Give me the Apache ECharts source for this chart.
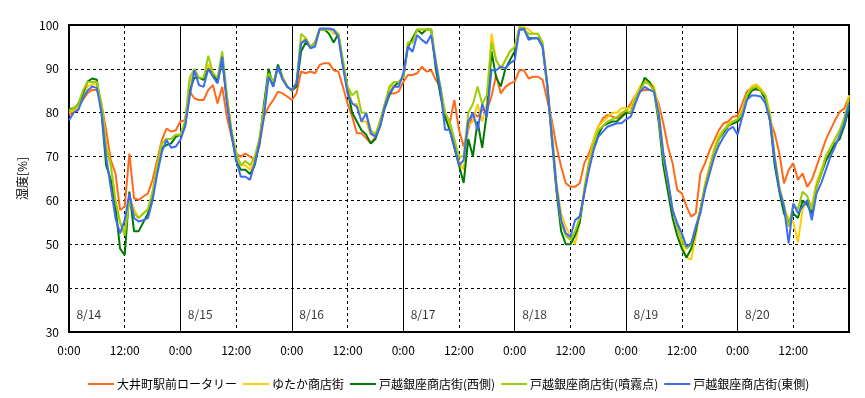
<!DOCTYPE html>
<html>
<head>
<meta charset="utf-8">
<script src="https://cdn.jsdelivr.net/npm/echarts@6/dist/echarts.min.js"></script>
<style>
  html, body { margin: 0; padding: 0; background: #fff; }
  #chart { width: 865px; height: 398px; }
</style>
</head>
<body>
<div id="chart"></div>
<script>
// hourly readings from 8/14 0:00 to 8/21 0:00 (169 values each)
var seriesNames = ['大井町駅前ロータリー', 'ゆたか商店街', '戸越銀座商店街(西側)', '戸越銀座商店街(噴霧点)', '戸越銀座商店街(東側)']
var seriesColors = ['#FF6A1A', '#FFCC00', '#007A00', '#9ACD0A', '#3D6BF2']
var dayLabels = ['8/14', '8/15', '8/16', '8/17', '8/18', '8/19', '8/20']

var oimachi = [
  79.5, 80, 81.5, 82.9, 84.5, 85.2, 85.2, 82, 76, 69.2, 66.2, 57.8, 58.6, 70.7, 60.5, 60.1, 60.9, 61.6, 64.7, 69.2, 73.8, 76.4, 75.7, 76,
  78, 78.3, 84.8, 83.3, 82.9, 82.9, 85.2, 86.3, 82.1, 85.9, 79.1, 74.5, 70.7, 70, 70.7, 70, 69.2, 72.3, 79.1, 81.4, 82.9, 84.8, 84.4, 83.7,
  82.9, 84.4, 89.4, 89, 89.4, 89, 90.9, 91.3, 91.3, 89.7, 89.4, 85.9, 82.1, 79.1, 75.3, 75.3, 74.2, 73, 74.5, 78.3, 81.4, 84.4, 84.4, 84.8,
  87, 88.6, 88.6, 89, 90.5, 89.4, 89.7, 87.5, 85.9, 79.1, 77.6, 82.9, 76.1, 72.3, 76.1, 79.9, 79.1, 80.6, 80.6, 83.7, 88.6, 84.4, 85.9, 86.7,
  87.1, 89.7, 89.7, 87.8, 88.2, 88.2, 87.5, 82.9, 78.3, 72.3, 67.7, 63.9, 63.1, 63.1, 63.9, 68.5, 70.7, 73.8, 76.8, 78.7, 79.5, 79.1, 78.7, 79.5,
  80.5, 82.1, 83.9, 84.8, 85.2, 85.2, 84.8, 82.1, 77.6, 72.3, 68.5, 62.4, 61.6, 58.6, 56.3, 57.1, 66.2, 68.5, 71.5, 73.8, 76.1, 77.6, 78, 79.1,
  79.3, 82.1, 84.8, 85.6, 85.2, 85.2, 83.7, 78.3, 75.3, 70.7, 63.9, 66.9, 68.5, 64.7, 66.2, 63.1, 64.7, 67.7, 70.7, 73.8, 76.1, 78.3, 80.2, 81, 83.7
]
var yutaka = [
  80, 80.5, 81.5, 84, 86, 86.5, 86.5, 82, 73, 68, 60, 55, 53, 61, 58, 56, 57, 58, 62, 68, 73, 74, 74, 75,
  75, 78, 87, 89, 88, 87.5, 91, 89, 87, 93, 84, 76, 70, 68, 68, 67, 69, 74, 81, 89, 87, 90, 88, 86,
  85, 87, 96, 97, 95, 96, 99, 99, 99, 98, 98, 92, 86, 82, 82, 78, 78, 75, 75, 78, 82, 85, 87, 87,
  88, 96, 96, 99, 99, 99, 99, 91, 85, 80, 77, 73, 69, 67, 77, 78, 82, 78, 82, 98, 92, 90, 92, 94,
  95, 99.5, 99.5, 99, 98, 98, 96, 87, 76, 64, 57, 54, 52, 50, 55, 63, 69, 74, 77, 78, 79, 80, 80, 81,
  81, 81, 84, 86, 87.5, 87, 86, 81, 71, 64, 58, 54, 50, 47, 46.5, 52, 58, 64, 68, 72, 75, 76, 77.5, 78,
  78.5, 80.5, 84, 86, 86.5, 85.5, 84, 80, 70, 63, 58, 56, 55, 50.5, 58, 60, 59, 64, 67, 70, 72, 74, 76, 78, 84
]
var togoshiWest = [
  80.8, 81, 82, 84.4, 87.1, 87.8, 87.5, 80, 68, 64.7, 58.6, 49, 47.5, 62, 53, 53, 55, 57, 61, 67, 72, 72.6, 73, 74.5,
  75, 77, 85, 88, 88, 87.5, 90, 89, 87, 92, 83, 75, 69, 67, 67, 66, 68, 73, 82, 90, 86, 91, 88, 86,
  85, 86, 94, 96, 95, 96, 99, 99, 98, 96, 98, 91, 85, 80, 78, 76, 75, 73, 74, 77, 81, 84, 86, 87,
  88, 95, 97, 99, 98, 99, 99, 90, 84, 79, 76, 72, 68, 64, 74, 70, 78, 72, 80, 94, 88, 86, 90, 92,
  94, 99, 99, 97, 97, 97, 95, 86, 74, 62, 53, 50, 50, 52, 55, 62, 68, 72, 75, 77, 77.5, 78, 78, 79,
  80, 80, 83, 85, 88, 87, 85, 78, 68, 62, 56, 52, 49, 47, 49, 53, 58, 63, 67, 71, 74, 75.5, 77, 77.5,
  78, 79, 83, 85, 85.5, 85, 83, 78, 68, 62, 57, 55, 57, 56, 60, 59, 57, 63, 66, 69, 71, 73, 74, 77, 81
]
var togoshiMist = [
  80.5, 81, 82, 85, 87, 87, 87, 82, 72, 68, 60, 55, 52, 60, 57, 56, 57, 58, 62, 68, 73, 74, 74, 75,
  75, 78, 88, 90, 88, 88, 93, 89, 88, 94, 84, 76, 71, 68, 69, 68, 70, 74, 81, 89, 87, 90, 88, 86,
  85, 87, 98, 97, 95, 96, 99, 99, 99, 99, 98, 92, 86, 84, 85, 80, 80, 76, 75, 78, 82, 86, 87, 87,
  88, 96, 96, 99, 99, 99, 99, 92, 86, 80, 78, 74, 70, 70, 80, 82, 86, 82, 84, 96, 92, 90, 92, 94,
  95, 99.5, 99, 98, 98, 98, 96, 86, 75, 63, 55, 52, 51, 53, 56, 62, 68, 73, 76, 77, 78, 78.5, 79, 80,
  80.5, 80, 83, 85, 87, 86.5, 85, 79, 70, 64, 58, 54, 51, 49, 50, 54, 58, 63, 67, 71, 74, 76, 77, 78,
  78.5, 80, 84, 85.5, 86, 85, 84, 79, 70, 63, 59, 54, 59, 58, 62, 61, 58, 63, 66, 70, 72, 74, 76, 79, 83
]
var togoshiEast = [
  78.3, 80, 80.6, 83.3, 85, 86, 85.6, 80, 70, 63, 56, 52.5, 55.5, 61.6, 56, 55.2, 55.5, 56, 60, 66, 71, 73.8, 72, 72.3,
  73.8, 76.8, 83.7, 89.7, 86.3, 85.9, 90, 88.2, 86.7, 92.8, 82.1, 75.3, 69.2, 65.4, 65.4, 64.7, 68.5, 73, 79.1, 88.2, 85.9, 90.5, 87.5, 85.9,
  85.2, 86.7, 95.8, 96.6, 94.7, 95.1, 99.2, 99.2, 99.2, 98.9, 97.3, 90.5, 84.4, 82.1, 81.4, 78, 79.9, 75.3, 74.5, 76.8, 81.4, 84.4, 85.9, 85.9,
  89, 95.1, 93.9, 97.7, 96.6, 95.8, 97.7, 91.3, 85.2, 76.1, 76.1, 72.3, 68, 69.2, 78, 80, 76, 82, 79, 89.7, 89.7, 90.5, 90.1, 91.3,
  92, 98.9, 99.2, 96.6, 97, 97, 95.1, 86.7, 74.5, 63.1, 55.5, 52.5, 51.7, 55.5, 56.3, 61.6, 66.9, 71.5, 74.5, 75.7, 76.8, 77.2, 77.6, 77.6,
  78.5, 79.1, 82.1, 84.8, 85.9, 85.2, 84.8, 79.9, 70.7, 64.7, 57.8, 54.8, 52.5, 49.5, 50.2, 54, 57.1, 62.4, 66.2, 70, 72.6, 74.5, 76.1, 76.8,
  75, 79.1, 82.9, 83.9, 83.9, 83.7, 82.1, 78.3, 69.2, 62.4, 58.6, 50.2, 59.3, 57.1, 58.6, 60.1, 55.5, 61.6, 63.9, 66.9, 70, 72.3, 74.9, 77.6, 82.1
]
var allValues = [oimachi, yutaka, togoshiWest, togoshiMist, togoshiEast]

var font = "'Noto Sans CJK JP', sans-serif"
var chart = echarts.init(document.getElementById('chart'))

var series = allValues.map(function (vals, k) {
  return {
    name: seriesNames[k],
    type: 'line',
    showSymbol: false,
    xAxisIndex: 0,
    lineStyle: { width: 2, color: seriesColors[k] },
    itemStyle: { color: seriesColors[k] },
    data: vals.map(function (v, i) { return [i, v] })
  }
})
// day labels inside the plot
series.push({
  type: 'scatter',
  silent: true,
  symbolSize: 0,
  itemStyle: { color: 'transparent' },
  label: {
    show: true,
    position: 'right',
    distance: 0,
    color: '#000',
    fontSize: 12,
    fontFamily: font,
    formatter: function (p) { return dayLabels[p.dataIndex] }
  },
  data: dayLabels.map(function (d, i) { return [i * 24 + 1.6, 34] })
})

chart.setOption({
  animation: false,
  grid: {
    left: 69,
    right: 16,
    top: 25,
    bottom: 66,
    show: true,
    borderColor: '#000',
    borderWidth: 2,
    backgroundColor: 'transparent'
  },
  legend: {
    data: seriesNames,
    left: 83,
    top: 373,
    icon: 'rect',
    itemWidth: 26,
    itemHeight: 2,
    itemGap: 6,
    textStyle: { color: '#000', fontSize: 12, fontFamily: font, padding: [0, 0, 0, -2] }
  },
  xAxis: [{
    type: 'value',
    min: 0,
    max: 168,
    interval: 12,
    axisLine: { show: false },
    axisTick: { show: false },
    axisLabel: {
      color: '#000',
      fontSize: 12,
      fontFamily: font,
      margin: 12,
      showMaxLabel: false,
      formatter: function (v) { return v % 24 === 0 ? '0:00' : '12:00' }
    },
    splitLine: { show: true, lineStyle: { color: '#000', type: [3, 3], width: 1 } }
  }, {
    type: 'value',
    min: 0,
    max: 168,
    interval: 24,
    position: 'bottom',
    axisLine: { show: false },
    axisTick: { show: false },
    axisLabel: { show: false },
    splitLine: { show: true, lineStyle: { color: '#000', type: 'solid', width: 1 } }
  }],
  yAxis: {
    type: 'value',
    min: 30,
    max: 100,
    interval: 10,
    name: '湿度[%]',
    nameLocation: 'middle',
    nameRotate: 90,
    nameGap: 37,
    nameTextStyle: { color: '#000', fontSize: 12, fontFamily: font },
    axisLine: { show: false },
    axisTick: { show: false },
    axisLabel: { color: '#000', fontSize: 12, fontFamily: font, margin: 10 },
    splitLine: { show: true, lineStyle: { color: '#000', type: [3, 3], width: 1 } }
  },
  series: series
})
</script>
</body>
</html>
